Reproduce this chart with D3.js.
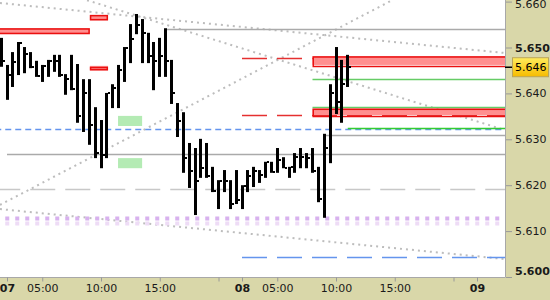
<!DOCTYPE html>
<html>
<head>
<meta charset="utf-8">
<script src="https://cdn.jsdelivr.net/npm/d3@7"></script>
<style>
  body { margin: 0; background: #fff; }
  svg { display: block; font-family: "DejaVu Sans", sans-serif; }
</style>
</head>
<body>
<div id="chart"></div>
<script>
// 30 minute bars, high / low / close
const highs = [5.6521,5.6462,5.6490,5.6512,5.6501,5.6490,5.6471,5.6462,5.6473,5.6484,
  5.6484,5.6442,5.6484,5.6464,5.6431,5.6431,5.6370,5.6342,5.6401,5.6420,
  5.6462,5.6501,5.6551,5.6573,5.6562,5.6532,5.6512,5.6521,5.6542,5.6473,
  5.6379,5.6359,5.6292,5.6281,5.6301,5.6292,5.6240,5.6211,5.6233,5.6211,
  5.6233,5.6200,5.6233,5.6240,5.6233,5.6251,5.6251,5.6281,5.6261,5.6240,
  5.6270,5.6281,5.6270,5.6281,5.6240,5.6312,5.6420,5.6501,5.6473,5.6484];
const lows = [5.6458,5.6386,5.6414,5.6440,5.6444,5.6455,5.6436,5.6425,5.6436,5.6447,
  5.6436,5.6397,5.6407,5.6336,5.6316,5.6288,5.6259,5.6237,5.6259,5.6368,
  5.6368,5.6425,5.6466,5.6529,5.6466,5.6466,5.6407,5.6436,5.6436,5.6377,
  5.6305,5.6227,5.6194,5.6135,5.6216,5.6216,5.6185,5.6148,5.6185,5.6148,
  5.6159,5.6148,5.6185,5.6196,5.6205,5.6216,5.6227,5.6227,5.6237,5.6216,
  5.6227,5.6237,5.6237,5.6227,5.6163,5.6129,5.6248,5.6355,5.6336,5.6414];
const closes = [5.6471,5.6440,5.6468,5.6510,5.6486,5.6458,5.6438,5.6460,5.6471,5.6471,
  5.6440,5.6431,5.6410,5.6351,5.6401,5.6331,5.6270,5.6266,5.6401,5.6412,
  5.6451,5.6499,5.6519,5.6549,5.6532,5.6481,5.6471,5.6481,5.6471,5.6401,
  5.6340,5.6259,5.6231,5.6209,5.6237,5.6220,5.6187,5.6209,5.6209,5.6159,
  5.6168,5.6198,5.6220,5.6231,5.6222,5.6251,5.6229,5.6255,5.6237,5.6240,
  5.6261,5.6261,5.6259,5.6231,5.6170,5.6281,5.6401,5.6381,5.6420,5.6457];
const firstBarT = -0.5;   // session hours of the first bar
const barStep = 0.5;

// time axis (session hours from the "07" day start)
const xTickT = [0, 3, 8, 13, 18, 20, 23, 28, 33, 38, 40];
const xTickLabels = ["07", "05:00", "10:00", "15:00", "", "08", "05:00", "10:00", "15:00", "", "09"];
const dayLabels = ["07", "08", "09"];

const yTicks = [5.600, 5.610, 5.620, 5.630, 5.640, 5.650, 5.660];
const lastPrice = 5.6457;

// zones: t0, t1, fill top/bottom, box top/bottom
const redZones = [
  { t0: -1, t1: 7.05, fTop: 5.6542, fBot: 5.6529, bTop: 5.6542, bBot: 5.6529 },
  { t0: 7.05, t1: 8.6, fTop: 5.6571, fBot: 5.6559, bTop: 5.6571, bBot: 5.6559 },
  { t0: 7.05, t1: 8.6, fTop: 5.6460, fBot: 5.6450, bTop: 5.6458, bBot: 5.6450 },
  { t0: 26, t1: 43, fTop: 5.6481, fBot: 5.6462, bTop: 5.6481, bBot: 5.6457 },
  { t0: 26, t1: 43, fTop: 5.6367, fBot: 5.6353, bTop: 5.6367, bBot: 5.6348 }
];
const greenZones = [
  { t0: 9.45, t1: 11.5, top: 5.6351, bot: 5.6329 },
  { t0: 9.45, t1: 11.5, top: 5.6259, bot: 5.6237 }
];

// horizontal levels
const levels = [
  { p: 5.6540, t0: 13.55, color: "#aaaaaa", dash: null, w: 1.5 },
  { p: 5.6268, t0: 0, color: "#aaaaaa", dash: null, w: 1.5 },
  { p: 5.6309, t0: 27.05, color: "#aaaaaa", dash: null, w: 1.5 },
  { p: 5.6191, t0: -1, color: "#c8c8c8", dash: "25,10", w: 1.5 },
  { p: 5.6322, t0: -1, color: "#6495ed", dash: "6,4", w: 1.5 },
  { p: 5.6044, t0: 20, color: "#6495ed", dash: "25,10", w: 1.5 },
  { p: 5.6477, t0: 20, color: "#e53030", dash: "25,10", w: 1.5 },
  { p: 5.6354, t0: 20, color: "#e53030", dash: "25,10", w: 1.5 },
  { p: 5.6431, t0: 26, color: "#66cc66", dash: null, w: 1.5 },
  { p: 5.6370, t0: 26, color: "#66cc66", dash: null, w: 1.5 },
  { p: 5.6324, t0: 29, color: "#33cc33", dash: null, w: 1.5 },
  { p: 5.6129, t0: -1, color: "#d8b2ee", dash: "4,6", w: 4 },
  { p: 5.6118, t0: -1, color: "#eedcf6", dash: "4,6", w: 4 }
];

// dotted trend lines
const trendLines = [
  { t0: -0.6, p0: 5.6597, t1: 42.4, p1: 5.6488 },
  { t0: 6.81, p0: 5.6603, t1: 42.4, p1: 5.6320 },
  { t0: -0.6, p0: 5.6157, t1: 32.77, p1: 5.6603 },
  { t0: -0.6, p0: 5.6148, t1: 42.4, p1: 5.6039 }
];

const width = 550, height = 300;
const plotW = 505, plotH = 277.5;
const beige = "#d9d7a9";

const svg = d3.select("#chart").append("svg")
  .attr("width", width).attr("height", height);

svg.append("rect").attr("width", width).attr("height", height).attr("fill", beige);
svg.append("rect").attr("width", plotW).attr("height", plotH).attr("fill", "#fff");

const x = d3.scaleLinear().domain([0, 40]).range([7, 477]);
const y = d3.scaleLinear().domain([5.600, 5.660]).range([277, 1.6]);

svg.append("clipPath").attr("id", "plotClip")
  .append("rect").attr("width", plotW).attr("height", plotH);

const plot = svg.append("g").attr("clip-path", "url(#plotClip)");

// dotted trend lines
plot.selectAll(".trend").data(trendLines).enter().append("line")
  .attr("x1", d => x(d.t0)).attr("y1", d => y(d.p0))
  .attr("x2", d => x(d.t1)).attr("y2", d => y(d.p1))
  .attr("stroke", "#bdbdbd").attr("stroke-width", 2)
  .attr("stroke-dasharray", "2,4");

// green boxes
plot.selectAll(".gz").data(greenZones).enter().append("rect")
  .attr("x", d => x(d.t0)).attr("y", d => y(d.top))
  .attr("width", d => x(d.t1) - x(d.t0))
  .attr("height", d => y(d.bot) - y(d.top))
  .attr("fill", "#b4ebb4");

// levels
plot.selectAll(".lvl").data(levels).enter().append("line")
  .attr("x1", d => x(d.t0)).attr("x2", plotW)
  .attr("y1", d => Math.round(y(d.p)) + 0.5).attr("y2", d => Math.round(y(d.p)) + 0.5)
  .attr("stroke", d => d.color).attr("stroke-width", d => d.w)
  .attr("stroke-dasharray", d => d.dash);

// red zones
const rz = plot.selectAll(".rz").data(redZones).enter().append("g");
rz.append("rect")
  .attr("x", d => x(d.t0)).attr("y", d => y(d.fTop))
  .attr("width", d => x(d.t1) - x(d.t0))
  .attr("height", d => y(d.fBot) - y(d.fTop))
  .attr("fill", "#ff8f8f");
rz.append("rect")
  .attr("x", d => x(d.t0) + 0.75).attr("y", d => y(d.bTop) + 0.75)
  .attr("width", d => x(d.t1) - x(d.t0) - 1.5)
  .attr("height", d => y(d.bBot) - y(d.bTop) - 1.5)
  .attr("fill", "none").attr("stroke", "#ea1010").attr("stroke-width", 1.5);

// bars
const bars = plot.selectAll(".bar").data(highs).enter().append("g");
const barLeft = i => Math.round(x(firstBarT + barStep * i) - 1.5);
bars.append("rect")
  .attr("x", (d, i) => barLeft(i))
  .attr("y", d => y(d))
  .attr("width", 3)
  .attr("height", (d, i) => y(lows[i]) - y(d))
  .attr("fill", "#000");
bars.append("rect")
  .attr("x", (d, i) => barLeft(i) + 3)
  .attr("y", (d, i) => Math.round(y(closes[i])) - 1)
  .attr("width", 2).attr("height", 2)
  .attr("fill", "#000");

// frame lines
svg.append("line").attr("x1", plotW + 0.5).attr("x2", plotW + 0.5)
  .attr("y1", 0).attr("y2", plotH).attr("stroke", "#a8a8a8");
svg.append("line").attr("x1", 0).attr("x2", plotW)
  .attr("y1", plotH).attr("y2", plotH).attr("stroke", "#a8a8a8");

// y axis
const yAxis = svg.append("g")
  .attr("transform", `translate(${plotW + 1},0)`)
  .call(d3.axisRight(y).tickValues(yTicks).tickSize(6).tickPadding(3)
    .tickFormat(d3.format(".3f")));
yAxis.select(".domain").remove();
yAxis.selectAll(".tick line").attr("stroke", "#999");
yAxis.selectAll(".tick text")
  .attr("fill", "#1a1a1a")
  .style("font-size", "11px")
  .style("font-family", "DejaVu Sans")
  .style("font-weight", d => Math.round(d * 1000) % 50 === 0 ? "bold" : "normal")
  .attr("transform", d => d === 5.600 ? "translate(0,-6)" : (d === 5.660 ? "translate(0,2)" : null));

// x axis
const xAxis = svg.append("g")
  .attr("transform", `translate(0,${plotH})`)
  .call(d3.axisBottom(x).tickValues(xTickT).tickSize(4).tickPadding(3)
    .tickFormat((d, i) => xTickLabels[i]));
xAxis.select(".domain").remove();
xAxis.selectAll(".tick line").attr("stroke", "#999");
xAxis.selectAll(".tick text")
  .attr("fill", "#1a1a1a")
  .style("font-size", "11px")
  .style("font-family", "DejaVu Sans")
  .style("font-weight", (d, i) => dayLabels.includes(xTickLabels[i]) ? "bold" : "normal");

// current price marker
const defs = svg.append("defs");
const grad = defs.append("linearGradient").attr("id", "priceGrad")
  .attr("x1", "0%").attr("y1", "0%").attr("x2", "0%").attr("y2", "100%");
grad.append("stop").attr("offset", "0%").attr("stop-color", "#ffec5c");
grad.append("stop").attr("offset", "100%").attr("stop-color", "#f6bb00");

const py = y(lastPrice);
svg.append("line").attr("x1", plotW).attr("x2", plotW + 7)
  .attr("y1", py).attr("y2", py).attr("stroke", "#000").attr("stroke-width", 1.5);
svg.append("rect").attr("x", 512.5).attr("y", py - 9.5)
  .attr("width", 36).attr("height", 19)
  .attr("fill", "url(#priceGrad)").attr("stroke", "#b9a45a");
svg.append("text").attr("x", 515).attr("y", py).attr("dy", "0.35em")
  .attr("fill", "#000").style("font-size", "11px")
  .text(d3.format(".3f")(lastPrice));
</script>
</body>
</html>
